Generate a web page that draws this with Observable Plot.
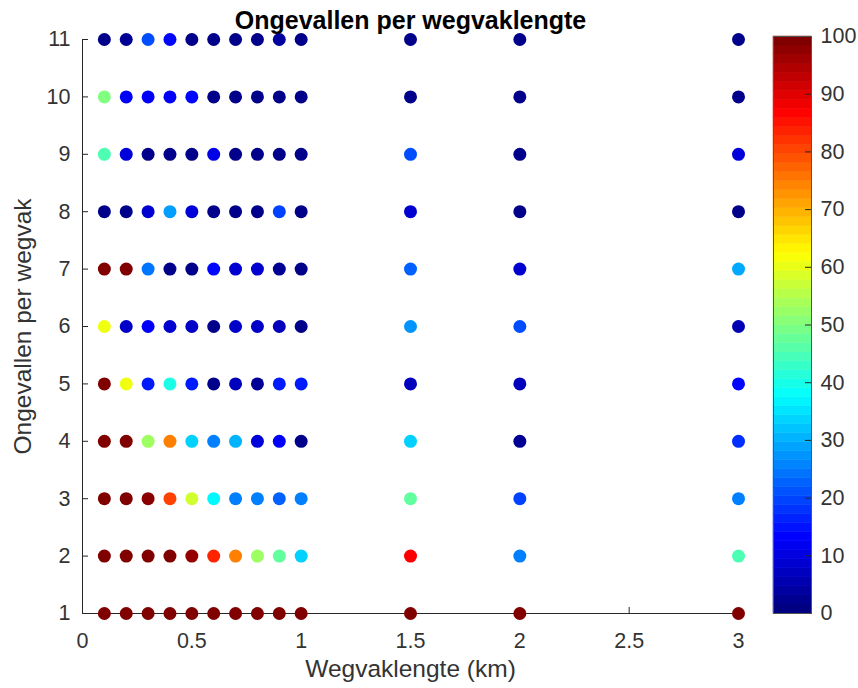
<!DOCTYPE html>
<html>
<head>
<meta charset="utf-8">
<script src="https://cdn.jsdelivr.net/npm/d3@7"></script>
<script src="https://cdn.jsdelivr.net/npm/@observablehq/plot@0.6"></script>
<style>
  body { margin: 0; background: #fff; }
  #chart { position: relative; width: 858px; height: 688px; }
  #chart svg { position: absolute; top: 0; }
</style>
</head>
<body>
<div id="chart"></div>
<script>
// Road-section lengths (km) and accidents per section
const wegvaklengtes = [0.1, 0.2, 0.3, 0.4, 0.5, 0.6, 0.7, 0.8, 0.9, 1.0, 1.5, 2, 3];
const ongevallen = [1, 2, 3, 4, 5, 6, 7, 8, 9, 10, 11];

// Colour value (0–100) per row, one entry per section length above
const rij1  = [100, 100, 100, 100, 100, 100, 100, 100, 100, 100, 100, 100, 100];
const rij2  = [100, 100, 100, 100, 98, 84, 75, 53, 47, 33, 88, 25, 45];
const rij3  = [100, 100, 99, 81, 58, 37, 25, 25, 22, 25, 47, 19, 25];
const rij4  = [100, 100, 53, 75, 33, 25, 30, 9, 12, 1, 33, 2, 17];
const rij5  = [100, 61, 15, 40, 15, 1, 6, 2, 15, 15, 6, 6, 13];
const rij6  = [61, 7, 12, 8, 7, 1, 7, 7, 6, 1, 27, 20, 5];
const rij7  = [100, 100, 24, 1, 1, 13, 8, 8, 2, 1, 22, 8, 29];
const rij8  = [1, 1, 8, 28, 9, 1, 1, 1, 19, 1, 8, 1, 1];
const rij9  = [45, 9, 1, 1, 1, 10, 1, 1, 1, 1, 20, 1, 9];
const rij10 = [50, 12, 12, 12, 13, 1, 1, 1, 1, 1, 1, 1, 1];
const rij11 = [1, 2, 20, 13, 1, 1, 1, 1, 3, 1, 1, 1, 1];
const rijen = [rij1, rij2, rij3, rij4, rij5, rij6, rij7, rij8, rij9, rij10, rij11];

// Tick values
const xTicks = [0, 0.5, 1, 1.5, 2, 2.5, 3];
const yTicks = [1, 2, 3, 4, 5, 6, 7, 8, 9, 10, 11];
const kleurTicks = [0, 10, 20, 30, 40, 50, 60, 70, 80, 90, 100];

// Jet colormap
function jet(t) {
  const c = v => Math.round(255 * Math.max(0, Math.min(1, v)));
  const r = c(1.5 - Math.abs(4 * t - 3));
  const g = c(1.5 - Math.abs(4 * t - 2));
  const b = c(1.5 - Math.abs(4 * t - 1));
  return `rgb(${r},${g},${b})`;
}

const punten = [];
rijen.forEach((rij, i) => rij.forEach((v, j) => punten.push({x: wegvaklengtes[j], y: ongevallen[i], v})));

const W = 858, H = 688;
const mL = 82, mR = 120, mT = 39, mB = 75;
const innerW = W - mL - mR, innerH = H - mT - mB;
const font = "'Liberation Sans', Arial, Helvetica, sans-serif";
const ink = "#262626";
const tickFont = 21.5, labelFont = 24.5;
const fmt = d => `${d}`;

const hoofd = Plot.plot({
  width: W, height: H,
  marginLeft: mL, marginRight: mR, marginTop: mT, marginBottom: mB,
  style: {fontFamily: font, background: "transparent", color: ink, overflow: "visible"},
  x: {domain: [0, 3]},
  y: {domain: [1, 11]},
  color: {type: "linear", domain: [0, 100], interpolate: jet},
  marks: [
    Plot.ruleY([1], {stroke: ink, strokeWidth: 1}),
    Plot.ruleX([0], {stroke: ink, strokeWidth: 1}),
    Plot.tickX(xTicks, {x: d => d, stroke: ink, insetTop: innerH - 6}),
    Plot.tickY(yTicks, {y: d => d, stroke: ink, insetRight: innerW - 6}),
    Plot.axisX(xTicks, {tickSize: 0, tickPadding: 19, fontSize: tickFont, fill: "#333", label: null, tickFormat: fmt}),
    Plot.axisY(yTicks, {tickSize: 0, tickPadding: 12, fontSize: tickFont, fill: "#333", label: null, tickFormat: fmt}),
    Plot.dot(punten, {x: "x", y: "y", fill: "v", r: 6.5}),
    Plot.text(["Ongevallen per wegvaklengte"], {
      text: d => d, frameAnchor: "top", dy: -19, lineAnchor: "middle", textAnchor: "middle",
      fontSize: 25, fontWeight: "bold", fill: "#000"
    }),
    Plot.text(["Wegvaklengte (km)"], {
      text: d => d, frameAnchor: "bottom", dy: 56, lineAnchor: "middle", textAnchor: "middle",
      fontSize: labelFont, fill: "#333"
    }),
    Plot.text(["Ongevallen per wegvak"], {
      text: d => d, frameAnchor: "left", rotate: -90, dx: -59.5, lineAnchor: "middle", textAnchor: "middle",
      fontSize: labelFont, fill: "#333"
    })
  ]
});

// Colour bar: 64 discrete jet levels
const niveaus = d3.range(64);
const kleurbalk = Plot.plot({
  width: 98, height: H,
  marginTop: 36, marginBottom: mB, marginLeft: 13, marginRight: 47,
  style: {fontFamily: font, background: "transparent", color: ink, overflow: "visible"},
  x: {domain: [0, 1], axis: null},
  y: {domain: [0, 100]},
  color: {type: "linear", domain: [0, 100], interpolate: jet},
  marks: [
    Plot.rect(niveaus, {
      x1: 0, x2: 1,
      y1: i => i * 100 / 64, y2: i => (i + 1) * 100 / 64,
      fill: i => i / 63 * 100, stroke: i => i / 63 * 100, strokeWidth: 0.5
    }),
    Plot.frame({stroke: "#555", strokeWidth: 1}),
    Plot.tickY(kleurTicks.slice(1, -1), {y: d => d, stroke: ink, insetLeft: 32}),
    Plot.axisY(kleurTicks, {anchor: "right", tickSize: 0, tickPadding: 9, fontSize: tickFont, fill: "#333", label: null, tickFormat: fmt})
  ]
});
kleurbalk.style.left = "760px";

const chart = document.getElementById("chart");
chart.appendChild(hoofd);
chart.appendChild(kleurbalk);
</script>
</body>
</html>
